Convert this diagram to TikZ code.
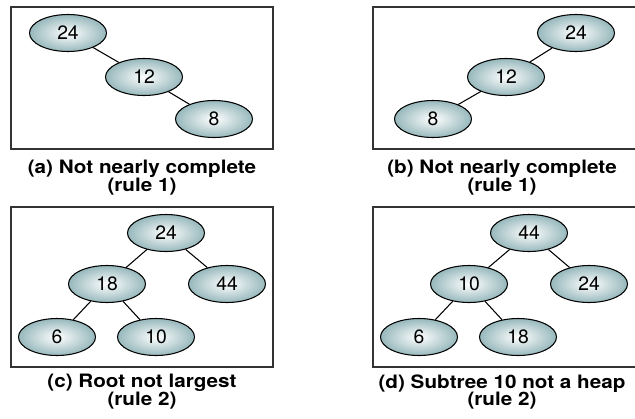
\documentclass[tikz,border=0pt]{standalone}
\usepackage{fontspec}
\setmainfont{TeX Gyre Heros}
\newfontfamily\capfont[FakeStretch=1.12]{TeX Gyre Heros}
\usepackage{xcolor}
\usepackage{tikz}
\usetikzlibrary{shapes.geometric}
\definecolor{keyrimc}{HTML}{97B8BC}
\definecolor{framec}{HTML}{333333}
\tikzset{
  keynode/.style={ellipse, draw=black, line width=0.6pt, inner color=white,
    outer color=keyrimc, minimum width=1.54cm, minimum height=0.74cm,
    inner sep=0pt, font=\fontsize{11}{13}\selectfont},
  branchedge/.style={draw=black, line width=0.6pt},
  panelbox/.style={draw=framec, line width=0.8pt},
  captionnode/.style={align=center, inner sep=0pt,
    font=\capfont\bfseries\fontsize{10.5}{10.2}\selectfont},
}

\begin{document}
\begin{tikzpicture}
  \useasboundingbox (0,0) rectangle (12.7,8.36);
  % panel frames
  \draw[panelbox] (0.22,5.38) rectangle (5.46,8.22);
  \draw[panelbox] (7.46,5.38) rectangle (12.72,8.22);
  \draw[panelbox] (0.22,1.02) rectangle (5.46,4.22);
  \draw[panelbox] (7.46,1.02) rectangle (12.72,4.22);

  % (a)
  \node[keynode] (a24) at (1.36,7.70) {24};
  \node[keynode] (a12) at (2.88,6.82) {12};
  \node[keynode] (a8) at (4.28,5.98) {8};
  \draw[branchedge] (a24) -- (a12);
  \draw[branchedge] (a12) -- (a8);
  \node[captionnode] (capa) at (2.84,4.81) {(a) Not nearly complete\\(rule 1)};

  % (b)
  \node[keynode] (b24) at (11.52,7.70) {24};
  \node[keynode] (b12) at (10.12,6.82) {12};
  \node[keynode] (b8) at (8.66,5.98) {8};
  \draw[branchedge] (b24) -- (b12);
  \draw[branchedge] (b12) -- (b8);
  \node[captionnode] (capb) at (10.04,4.81) {(b) Not nearly complete\\(rule 1)};

  % (c)
  \node[keynode] (c24) at (3.32,3.70) {24};
  \node[keynode] (c18) at (2.14,2.68) {18};
  \node[keynode] (c44) at (4.54,2.68) {44};
  \node[keynode] (c6) at (1.14,1.62) {6};
  \node[keynode] (c10) at (3.12,1.62) {10};
  \draw[branchedge] (c24) -- (c18);
  \draw[branchedge] (c24) -- (c44);
  \draw[branchedge] (c18) -- (c6);
  \draw[branchedge] (c18) -- (c10);
  \node[captionnode] (capc) at (2.84,0.52) {(c) Root not largest\\(rule 2)};

  % (d)
  \node[keynode] (d44) at (10.58,3.70) {44};
  \node[keynode] (d10) at (9.38,2.68) {10};
  \node[keynode] (d24) at (11.78,2.68) {24};
  \node[keynode] (d6) at (8.38,1.62) {6};
  \node[keynode] (d18) at (10.36,1.62) {18};
  \draw[branchedge] (d44) -- (d10);
  \draw[branchedge] (d44) -- (d24);
  \draw[branchedge] (d10) -- (d6);
  \draw[branchedge] (d10) -- (d18);
  \node[captionnode] (capd) at (10.04,0.52) {(d) Subtree 10 not a heap\\(rule 2)};
\end{tikzpicture}
\end{document}
